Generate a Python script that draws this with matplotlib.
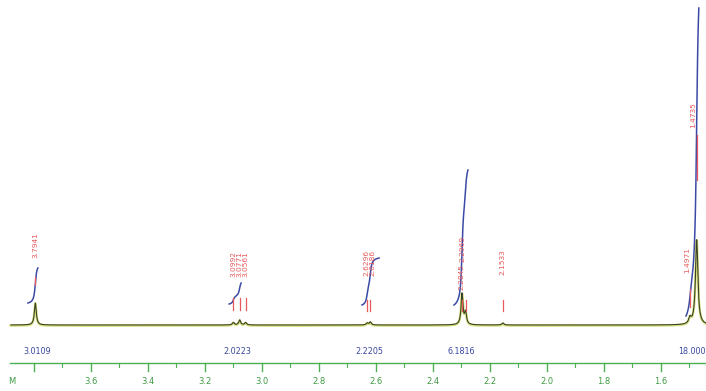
import numpy as np
import matplotlib
matplotlib.use("Agg")
import matplotlib.pyplot as plt

# ---- data ----
peak_ppm = [3.7941, 3.0992, 3.0771, 3.0561, 2.6296, 2.6186, 2.2969, 2.2845, 2.1533, 1.4971, 1.4735]
peak_height = [22, 2.5, 5, 2.5, 2, 3, 31, 12, 2, 6, 85]
peak_hwhm = [0.004, 0.004, 0.004, 0.004, 0.004, 0.004, 0.004, 0.004, 0.004, 0.005, 0.005]

label_level = [67, 48, 48, 48, 49, 49, 63, 35, 50, 52, 197]
label_dx_px = [0, 0, 0, 0, -1, 2, 0, -4, 0, -3, -3]
stick_lo = [40, 15, 15, 15, 14, 14, 14, 14, 14, 18, 145]
stick_hi = [48, 27, 27, 27, 25, 25, 25, 25, 25, 36, 190]

int_lo_ppm = [3.820, 3.114, 2.648, 2.325, 1.511]
int_hi_ppm = [3.785, 3.072, 2.588, 2.276, 1.466]
int_start = [22, 21, 20, 20, 9]
int_end = [57, 42, 67, 155, 317]
int_values = ["3.0109", "2.0223", "2.2205", "6.1816", "18.000"]
int_text_ppm = [3.788, 3.087, 2.621, 2.300, 1.491]

major_ticks = [3.8, 3.6, 3.4, 3.2, 3.0, 2.8, 2.6, 2.4, 2.2, 2.0, 1.8, 1.6]
major_labels = ["", "3.6", "3.4", "3.2", "3.0", "2.8", "2.6", "2.4", "2.2", "2.0", "1.8", "1.6"]
minor_ticks = [3.7, 3.5, 3.3, 3.1, 2.9, 2.7, 2.5, 2.3, 2.1, 1.9, 1.7, 1.5]

XL, XR = 3.9180, 1.4408
PX_PER_PPM = 285.0

fig = plt.figure(figsize=(7.06, 3.91), dpi=100)
ax = fig.add_axes([0, 0, 1, 1])
ax.set_xlim(XL, XR)
ax.set_ylim(-66, 325)
ax.axis("off")

# spectrum
x = np.linspace(3.88, XR, 30000)
spec = np.zeros_like(x)
for p, h, w in zip(peak_ppm, peak_height, peak_hwhm):
    spec += h / (1 + ((x - p) / w) ** 2)
ax.plot(x, spec - 0.6, color="#d8e07c", lw=1.8, zorder=1)
ax.plot(x, spec, color="#3a4228", lw=0.8, zorder=2)

# integrals
for lo, hi, s, e in zip(int_lo_ppm, int_hi_ppm, int_start, int_end):
    xi = np.linspace(lo, hi, 400)
    yi = np.zeros_like(xi)
    for p, h, w in zip(peak_ppm, peak_height, peak_hwhm):
        yi += h / (1 + ((xi - p) / w) ** 2)
    c = np.cumsum(yi)
    c = (c - c[0]) / (c[-1] - c[0])
    ax.plot(xi, s + (e - s) * c, color="#3c4aa6", lw=1.1, zorder=3)

# peak sticks and labels
red = "#e85a5c"
for p, lv, dx, lo, hi in zip(peak_ppm, label_level, label_dx_px, stick_lo, stick_hi):
    ax.plot([p, p], [lo, hi], color=red, lw=0.9, zorder=4)
    ax.text(p - dx / PX_PER_PPM, lv, f"{p:.4f}", rotation=90, ha="center", va="bottom",
            color=red, fontsize=5.4, zorder=5)

# integral values
for xp, t in zip(int_text_ppm, int_values):
    ax.text(xp, -26, t, ha="center", va="center", color="#3a48a0", fontsize=5.8)

# axis
green = "#4caf50"
ax.plot([3.883, XR], [-38, -38], color=green, lw=1.0)
for t, lab in zip(major_ticks, major_labels):
    ax.plot([t, t], [-38, -46], color=green, lw=1.0)
    if lab:
        ax.text(t, -57, lab, ha="center", va="center", color="#3f9a44", fontsize=6)
for t in minor_ticks:
    ax.plot([t, t], [-38, -42], color=green, lw=0.8)
ax.text(3.876, -57, "M", ha="center", va="center", color="#3f9a44", fontsize=6)

fig.savefig("out.png", dpi=100)
